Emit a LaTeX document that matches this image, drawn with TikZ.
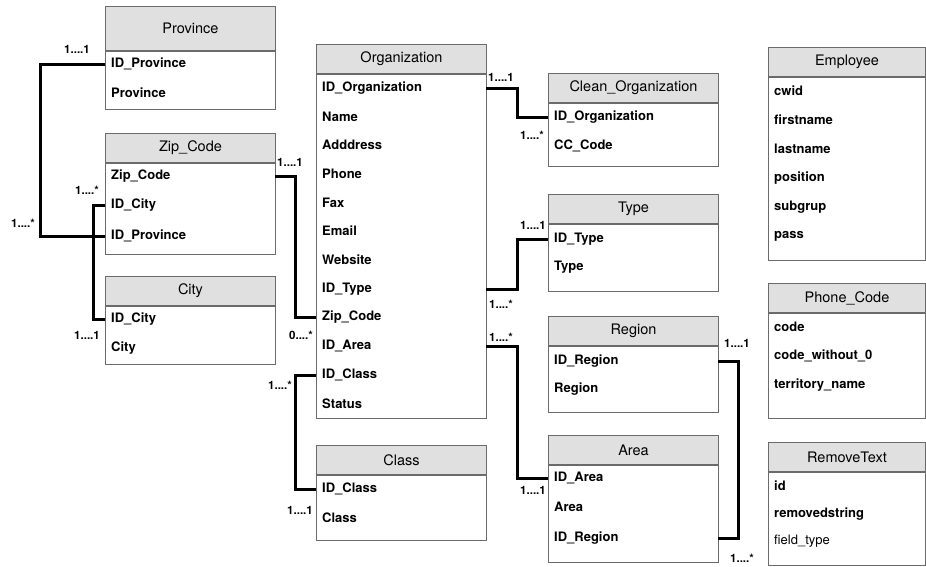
\documentclass[tikz,border=0pt]{standalone}
\usepackage{fontspec}
\setmainfont{TeX Gyre Heros}
\usetikzlibrary{positioning}
\definecolor{headgray}{rgb}{0.88,0.88,0.88}
\definecolor{framegray}{rgb}{0.42,0.42,0.42}

\begin{document}
\begin{tikzpicture}[
    x=1pt, y=-1pt,
    tblhead/.style={
        rectangle, draw=framegray, line width=1pt, fill=headgray,
        anchor=north west, minimum width=170pt, minimum height=29pt,
        inner sep=0pt, font=\fontsize{14.5}{16}\selectfont
    },
    tblbody/.style={
        rectangle, draw=framegray, line width=1pt, fill=white,
        anchor=north west, minimum width=170pt, inner sep=0pt
    },
    field/.style={
        anchor=west, text width=#1, align=left,
        inner xsep=6pt, inner ysep=0pt,
        font=\fontsize{13}{15}\selectfont\bfseries
    },
    field/.default=158pt,
    card/.style={font=\fontsize{11.5}{13}\selectfont\bfseries, inner sep=1pt},
    link/.style={line width=3pt, line join=miter}
]
\useasboundingbox (0,0) rectangle (926,566);

%% ── Province / Zip_Code / City ───────────────────────────────────────────────
\node[tblhead, minimum height=44pt] (prov) at (105,6) {Province};
\node[tblbody, minimum height=58pt] (provbody) at (prov.south west) {};
\node[field] (provid)   at (105,64) {ID\_Province};
\node[field] (provname) at (105,93) {Province};

\node[tblhead] (zip) at (105,133) {Zip\_Code};
\node[tblbody, minimum height=91pt] (zipbody) at (zip.south west) {};
\node[field] (zipzip)  at (105,176) {Zip\_Code};
\node[field] (zipcity) at (105,205) {ID\_City};
\node[field] (zipprov) at (105,236) {ID\_Province};

\node[tblhead] (city) at (105,276) {City};
\node[tblbody, minimum height=58pt] (citybody) at (city.south west) {};
\node[field] (cityid)   at (105,319) {ID\_City};
\node[field] (cityname) at (105,348) {City};

%% ── Organization / Class ─────────────────────────────────────────────────────
\node[tblhead] (org) at (316,44) {Organization};
\node[tblbody, minimum height=344pt] (orgbody) at (org.south west) {};
\node[field] (orgid)     at (316,88)  {ID\_Organization};
\node[field] (orgname)   at (316,117) {Name};
\node[field] (orgaddr)   at (316,145) {Adddress};
\node[field] (orgphone)  at (316,174) {Phone};
\node[field] (orgfax)    at (316,203) {Fax};
\node[field] (orgmail)   at (316,231) {Email};
\node[field] (orgweb)    at (316,260) {Website};
\node[field] (orgtype)   at (316,289) {ID\_Type};
\node[field] (orgzip)    at (316,317) {Zip\_Code};
\node[field] (orgarea)   at (316,346) {ID\_Area};
\node[field] (orgclass)  at (316,375) {ID\_Class};
\node[field] (orgstatus) at (316,404) {Status};

\node[tblhead] (class) at (316,445) {Class};
\node[tblbody, minimum height=65pt] (classbody) at (class.south west) {};
\node[field] (classid)   at (316,489) {ID\_Class};
\node[field] (classname) at (316,518) {Class};

%% ── Clean_Organization / Type / Region / Area ────────────────────────────────
\node[tblhead] (clean) at (548,73) {Clean\_Organization};
\node[tblbody, minimum height=63pt] (cleanbody) at (clean.south west) {};
\node[field] (cleanid)   at (548,117) {ID\_Organization};
\node[field] (cleancode) at (548,146) {CC\_Code};

\node[tblhead] (type) at (548,194) {Type};
\node[tblbody, minimum height=67pt] (typebody) at (type.south west) {};
\node[field] (typeid)   at (548,239) {ID\_Type};
\node[field] (typename) at (548,267) {Type};

\node[tblhead] (reg) at (548,316) {Region};
\node[tblbody, minimum height=66pt] (regbody) at (reg.south west) {};
\node[field] (regid)   at (548,361) {ID\_Region};
\node[field] (regname) at (548,389) {Region};

\node[tblhead] (area) at (548,435) {Area};
\node[tblbody, minimum height=97pt] (areabody) at (area.south west) {};
\node[field] (areaid)   at (548,478) {ID\_Area};
\node[field] (areaname) at (548,507) {Area};
\node[field] (areareg)  at (548,538) {ID\_Region};

%% ── Employee / Phone_Code / RemoveText ───────────────────────────────────────
\node[tblhead, minimum width=157pt] (emp) at (768,47) {Employee};
\node[tblbody, minimum width=157pt, minimum height=183pt] (empbody) at (emp.south west) {};
\node[field=145pt] (empcwid)  at (768,91)  {cwid};
\node[field=145pt] (empfirst) at (768,120) {firstname};
\node[field=145pt] (emplast)  at (768,149) {lastname};
\node[field=145pt] (emppos)   at (768,178) {position};
\node[field=145pt] (empsub)   at (768,207) {subgrup};
\node[field=145pt] (emppass)  at (768,236) {pass};

\node[tblhead, minimum width=157pt] (phone) at (768,283) {Phone\_Code};
\node[tblbody, minimum width=157pt, minimum height=105pt] (phonebody) at (phone.south west) {};
\node[field=145pt] (phonecode) at (768,327) {code};
\node[field=145pt] (phonewo)   at (768,356) {code\_without\_0};
\node[field=145pt] (phoneterr) at (768,385) {territory\_name};

\node[tblhead, minimum width=157pt] (rem) at (768,442) {RemoveText};
\node[tblbody, minimum width=157pt, minimum height=93pt] (rembody) at (rem.south west) {};
\node[field=145pt] (remid)   at (768,486) {id};
\node[field=145pt] (remstr)  at (768,514) {removedstring};
\node[field=145pt, font=\fontsize{13}{15}\selectfont] (remtype) at (768,541) {field\_type};

%% ── Relations ────────────────────────────────────────────────────────────────
\draw[link] (provid.west)   -- ++(-65,0) |- (zipprov.west);
\draw[link] (zipcity.west)  -- ++(-12,0) |- (cityid.west);
\draw[link] (zipzip.east)   -- ++(20,0)  |- (orgzip.west);
\draw[link] (orgclass.west) -- ++(-21,0) |- (classid.west);
\draw[link] (orgid.east)    -- ++(31,0)  |- (cleanid.west);
\draw[link] (orgtype.east)  -- ++(31,0)  |- (typeid.west);
\draw[link] (orgarea.east)  -- ++(31,0)  |- (areaid.west);
\draw[link] (regid.east)    -- ++(20,0)  |- (areareg.east);

%% ── Cardinalities ────────────────────────────────────────────────────────────
\node[card] (cprov1)  at (77,49)   {1....1};
\node[card] (cprov2)  at (23,223)  {1....*};
\node[card] (ccity1)  at (87,190)  {1....*};
\node[card] (ccity2)  at (87,335)  {1....1};
\node[card] (czip1)   at (290,162) {1....1};
\node[card] (czip2)   at (301,335) {0....*};
\node[card] (cclass1) at (280,385) {1....*};
\node[card] (cclass2) at (300,510) {1....1};
\node[card] (cclean1) at (501,77)  {1....1};
\node[card] (cclean2) at (532,135) {1....*};
\node[card] (ctype1)  at (533,225) {1....1};
\node[card] (ctype2)  at (501,304) {1....*};
\node[card] (carea1)  at (501,337) {1....*};
\node[card] (carea2)  at (533,490) {1....1};
\node[card] (creg1)   at (737,343) {1....1};
\node[card] (creg2)   at (742,558) {1....*};

\end{tikzpicture}
\end{document}
